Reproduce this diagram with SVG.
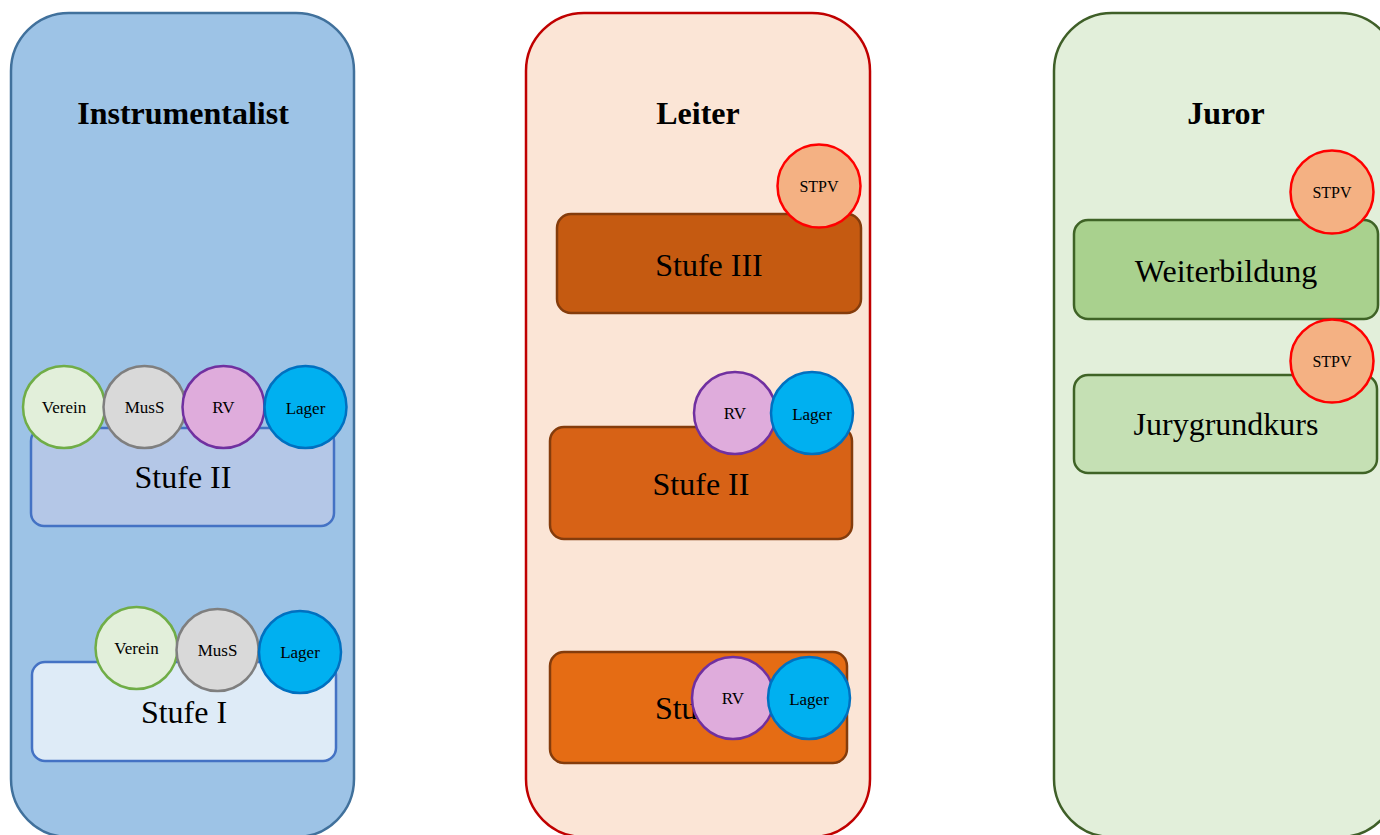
<svg xmlns="http://www.w3.org/2000/svg" width="1380" height="835" viewBox="0 0 1380 835">
<style>
.t{font-family:"Liberation Serif","Times New Roman",serif;fill:#000;text-anchor:middle}
.title{font-size:32px;font-weight:bold}
.lbl{font-size:32px}
.cl{font-size:17px}
.st{font-size:16px}
.cont{stroke-width:2.5}
.box{stroke-width:2.5}
.c{stroke-width:2.5}
.verein{fill:#e2efda;stroke:#70ad47}
.muss{fill:#d9d9d9;stroke:#7f7f7f}
.rv{fill:#dfacdc;stroke:#7030a0}
.lager{fill:#00b0f0;stroke:#0070c0}
.stpv{fill:#f4b183;stroke:#ff0000}
</style>
<rect width="1380" height="835" fill="#ffffff"/>
<g id="instrumentalist">
<rect class="cont" x="11" y="13" width="343" height="824" rx="58" fill="#9dc3e6" stroke="#41719c"/>
<text class="t title" x="183" y="124">Instrumentalist</text>
</g>
<g id="leiter">
<rect class="cont" x="526" y="13" width="344" height="824" rx="58" fill="#fbe5d6" stroke="#c00000"/>
<text class="t title" x="698" y="124">Leiter</text>
</g>
<g id="juror">
<rect class="cont" x="1054" y="13" width="344" height="824" rx="58" fill="#e2efda" stroke="#3f5f28"/>
<text class="t title" x="1226" y="124">Juror</text>
</g>
<g id="i-stufe2">
<rect class="box" x="31" y="428" width="303" height="98" rx="13" fill="#b4c7e7" stroke="#4472c4"/>
<text class="t lbl" x="183" y="488">Stufe II</text>
</g>
<g id="i-s2-verein"><circle class="c verein" cx="64" cy="407" r="41"/><text class="t cl" x="64" y="413">Verein</text></g>
<g id="i-s2-muss"><circle class="c muss" cx="144.5" cy="407" r="41"/><text class="t cl" x="144.5" y="413">MusS</text></g>
<g id="i-s2-rv"><circle class="c rv" cx="223.5" cy="407" r="41"/><text class="t cl" x="223.5" y="413">RV</text></g>
<g id="i-s2-lager"><circle class="c lager" cx="305.5" cy="407" r="41"/><text class="t cl" x="305.5" y="414">Lager</text></g>
<g id="i-stufe1">
<rect class="box" x="32" y="662" width="304" height="99" rx="13" fill="#deebf7" stroke="#4472c4"/>
<text class="t lbl" x="184" y="723">Stufe I</text>
</g>
<g id="i-s1-verein"><circle class="c verein" cx="136.5" cy="648" r="41"/><text class="t cl" x="136.5" y="654">Verein</text></g>
<g id="i-s1-muss"><circle class="c muss" cx="217.5" cy="650" r="41"/><text class="t cl" x="217.5" y="656">MusS</text></g>
<g id="i-s1-lager"><circle class="c lager" cx="300" cy="652" r="41"/><text class="t cl" x="300" y="658">Lager</text></g>
<g id="l-stufe3">
<rect class="box" x="557" y="214" width="304" height="99" rx="14" fill="#c55a11" stroke="#843c0c"/>
<text class="t lbl" x="709" y="276">Stufe III</text>
</g>
<g id="l-s3-stpv"><circle class="c stpv" cx="819" cy="186" r="41.5"/><text class="t st" x="819" y="192">STPV</text></g>
<g id="l-stufe2">
<rect class="box" x="550" y="427" width="302" height="112" rx="14" fill="#d76216" stroke="#843c0c"/>
<text class="t lbl" x="701" y="495">Stufe II</text>
</g>
<g id="l-s2-rv"><circle class="c rv" cx="735" cy="413" r="41"/><text class="t cl" x="735" y="419">RV</text></g>
<g id="l-s2-lager"><circle class="c lager" cx="812" cy="413" r="41"/><text class="t cl" x="812" y="420">Lager</text></g>
<g id="l-stufe1">
<rect class="box" x="550" y="652" width="297" height="111" rx="14" fill="#e56c14" stroke="#843c0c"/>
<text class="t lbl" x="698" y="719">Stufe I</text>
</g>
<g id="l-s1-rv"><circle class="c rv" cx="733" cy="698" r="41"/><text class="t cl" x="733" y="704">RV</text></g>
<g id="l-s1-lager"><circle class="c lager" cx="809" cy="698" r="41"/><text class="t cl" x="809" y="705">Lager</text></g>
<g id="j-weiterbildung">
<rect class="box" x="1074" y="220" width="304" height="99" rx="14" fill="#a9d18e" stroke="#3f6326"/>
<text class="t lbl" x="1226" y="282">Weiterbildung</text>
</g>
<g id="j-w-stpv"><circle class="c stpv" cx="1332" cy="192" r="41.5"/><text class="t st" x="1332" y="198">STPV</text></g>
<g id="j-jurygrundkurs">
<rect class="box" x="1074" y="375" width="303" height="98" rx="14" fill="#c5e0b4" stroke="#3f6326"/>
<text class="t lbl" x="1226" y="435">Jurygrundkurs</text>
</g>
<g id="j-j-stpv"><circle class="c stpv" cx="1332" cy="361" r="41.5"/><text class="t st" x="1332" y="367">STPV</text></g>
<g id="connectors"></g>
</svg>
